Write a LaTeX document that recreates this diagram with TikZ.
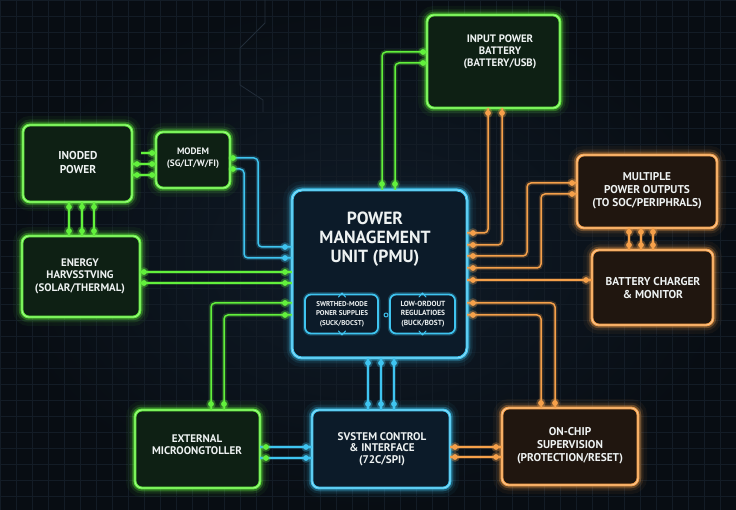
\documentclass[tikz,border=0pt]{standalone}
\usepackage{fontspec}
\setmainfont{PT Sans}
\usetikzlibrary{calc}
\definecolor{bgA}{HTML}{080D13}
\definecolor{bgB}{HTML}{101C29}
\definecolor{gridC}{HTML}{131C26}
\definecolor{traceC}{HTML}{222D39}
\definecolor{gC}{HTML}{62F03C}
\definecolor{bC}{HTML}{3FC4F0}
\definecolor{oC}{HTML}{F5A04A}
\definecolor{gF}{HTML}{0E2014}
\definecolor{bF}{HTML}{0C1B29}
\definecolor{oF}{HTML}{20160F}
\definecolor{txC}{HTML}{EEF2F2}
\tikzset{
 boxbase/.style={rounded corners=7pt, line width=2.8pt, outer sep=0pt, inner sep=0pt},
 glow/.style={preaction={draw=#1,line width=18pt,draw opacity=.05},
              preaction={draw=#1,line width=11pt,draw opacity=.11},
              preaction={draw=#1,line width=6.5pt,draw opacity=.30},
              postaction={draw=#1!55!white,line width=.8pt}},
 gbox/.style={boxbase, draw=gC, fill=gF, glow=gC},
 bbox/.style={boxbase, draw=bC, fill=bF, glow=bC},
 obox/.style={boxbase, draw=oC, fill=oF, glow=oC},
 subbox/.style={boxbase, rounded corners=6pt, line width=1.8pt, draw=bC, fill=bF,
              preaction={draw=bC,line width=4.5pt,draw opacity=.25}},
 tx/.style={text=txC, align=center, inner sep=0pt},
 wire/.style={draw=#1, line width=1.5pt, rounded corners=4pt,
              preaction={draw=#1,line width=4.5pt,draw opacity=.22}},
 chev/.style={draw=bC, line width=1pt, line cap=round, line join=round},
}
\newcommand\pinq[2]{\fill[#1,opacity=.3] #2 circle (4.8pt); \fill[#1] #2 circle (2.9pt);}
\newcommand\fsz[2]{\fontsize{#1}{#2}\selectfont\bfseries}
\begin{document}
\begin{tikzpicture}[x=1pt,y=-1pt]
\useasboundingbox (0,0) rectangle (736,510);
\shade[inner color=bgB, outer color=bgA] (0,0) rectangle (736,510);
\draw[gridC, line width=.4pt] (0,0) grid[step=16pt] (736,510);
\draw[traceC, line width=.8pt] (265,0) -- (265,23) -- (240,48) -- (240,85) -- (263,100) -- (263,112);

% boxes
\node[gbox, minimum width=109pt, minimum height=77pt] (inp) at (77.5,163.5) {};
\node[gbox, minimum width=74pt, minimum height=56pt] (mdm) at (193,160) {};
\node[gbox, minimum width=118pt, minimum height=81pt] (eh) at (81,276.5) {};
\node[bbox, rounded corners=10pt, line width=3pt, minimum width=175pt, minimum height=168pt] (pmu) at (379.5,274) {};
\node[subbox, minimum width=73pt, minimum height=39pt] (smps) at (341.5,314) {};
\node[subbox, minimum width=65pt, minimum height=39pt] (ldo) at (422.5,314) {};
\node[gbox, minimum width=133pt, minimum height=93pt] (ipb) at (493.5,61.5) {};
\node[obox, minimum width=140pt, minimum height=73pt] (mpo) at (647,191.5) {};
\node[obox, minimum width=121pt, minimum height=75pt] (bcm) at (652.5,287.5) {};
\node[gbox, minimum width=125pt, minimum height=78pt] (ext) at (197.5,449) {};
\node[bbox, minimum width=138pt, minimum height=78pt] (sci) at (381,449) {};
\node[obox, minimum width=136pt, minimum height=77pt] (ocs) at (570,446.5) {};

% small marks on the sub-boxes
\draw[chev] (338.5,297) -- (342,293) -- (345.5,297);
\draw[chev] (338.5,331) -- (342,335) -- (345.5,331);
\draw[chev] (419,297) -- (422.5,293) -- (426,297);
\draw[chev] (419,331) -- (422.5,335) -- (426,331);
\draw[chev] (386,315) circle (2pt);

% green wires
\coordinate (stub) at (141,153);
\draw[wire=gC] (stub) -- (mdm.west |- 0,153);
\draw[wire=gC] (inp.east |- 0,164) -- (mdm.west |- 0,164);
\draw[wire=gC] (inp.east |- 0,175) -- (mdm.west |- 0,175);
\foreach \xx in {69,82,94} \draw[wire=gC] (inp.south -| \xx,0) -- (eh.north -| \xx,0);
\draw[wire=gC] (eh.east |- 0,272) -- (pmu.west |- 0,272);
\draw[wire=gC] (eh.east |- 0,283) -- (pmu.west |- 0,283);
\draw[wire=gC] (pmu.west |- 0,303) -- (211,303) -- (ext.north -| 211,0);
\draw[wire=gC] (pmu.west |- 0,315) -- (224,315) -- (ext.north -| 224,0);
\draw[wire=gC] (ipb.west |- 0,52) -- (382,52) -- (pmu.north -| 382,0);
\draw[wire=gC] (ipb.west |- 0,63) -- (395,63) -- (pmu.north -| 395,0);

% blue wires
\draw[wire=bC] (mdm.east |- 0,158) -- (258,158) -- (258,247) -- (pmu.west |- 0,247);
\draw[wire=bC] (mdm.east |- 0,169) -- (244,169) -- (244,258) -- (pmu.west |- 0,258);
\foreach \xx in {368,381,394} \draw[wire=bC] (pmu.south -| \xx,0) -- (sci.north -| \xx,0);
\draw[wire=bC] (ext.east |- 0,447) -- (sci.west |- 0,447);
\draw[wire=bC] (ext.east |- 0,458) -- (sci.west |- 0,458);

% orange wires
\draw[wire=oC] (ipb.south -| 488,0) -- (488,233) -- (pmu.east |- 0,233);
\draw[wire=oC] (ipb.south -| 502,0) -- (502,245) -- (pmu.east |- 0,245);
\draw[wire=oC] (pmu.east |- 0,256) -- (527,256) -- (527,183) -- (mpo.west |- 0,183);
\draw[wire=oC] (pmu.east |- 0,268) -- (541,268) -- (541,194) -- (mpo.west |- 0,194);
\draw[wire=oC] (pmu.east |- 0,280) -- (bcm.west |- 0,280);
\foreach \xx in {629,641,653} \draw[wire=oC] (mpo.south -| \xx,0) -- (bcm.north -| \xx,0);
\draw[wire=oC] (pmu.east |- 0,303) -- (555,303) -- (ocs.north -| 555,0);
\draw[wire=oC] (pmu.east |- 0,315) -- (541,315) -- (ocs.north -| 541,0);
\draw[wire=oC] (sci.east |- 0,447) -- (ocs.west |- 0,447);
\draw[wire=oC] (sci.east |- 0,457) -- (ocs.west |- 0,457);

% pins
\pinq{gC}{(152,153)}
\pinq{gC}{(137,164)} \pinq{gC}{(152,164)}
\pinq{gC}{(137,175)} \pinq{gC}{(152,175)}
\foreach \xx in {69,82,94} {\pinq{gC}{(\xx,207)} \pinq{gC}{(\xx,231)}}
\pinq{gC}{(144,272)} \pinq{gC}{(285,272)}
\pinq{gC}{(144,283)} \pinq{gC}{(285,283)}
\pinq{gC}{(285,303)} \pinq{gC}{(211,404)}
\pinq{gC}{(285,315)} \pinq{gC}{(224,404)}
\pinq{gC}{(423,52)} \pinq{gC}{(382,184)}
\pinq{gC}{(423,63)} \pinq{gC}{(395,184)}
\pinq{gC}{(233,158)} \pinq{bC}{(285,247)}
\pinq{gC}{(233,169)} \pinq{bC}{(285,258)}
\foreach \xx in {368,381,394} {\pinq{bC}{(\xx,363)} \pinq{bC}{(\xx,404)}}
\pinq{gC}{(266,447)} \pinq{bC}{(306,447)}
\pinq{gC}{(266,458)} \pinq{bC}{(306,458)}
\pinq{oC}{(488,113)} \pinq{oC}{(473,233)}
\pinq{oC}{(502,113)} \pinq{oC}{(473,245)}
\pinq{oC}{(473,256)} \pinq{oC}{(572,183)}
\pinq{oC}{(473,268)} \pinq{oC}{(572,194)}
\pinq{oC}{(473,280)} \pinq{oC}{(586,280)}
\foreach \xx in {629,641,653} {\pinq{oC}{(\xx,232)} \pinq{oC}{(\xx,245)}}
\pinq{oC}{(473,303)} \pinq{oC}{(555,403)}
\pinq{oC}{(473,315)} \pinq{oC}{(541,403)}
\pinq{oC}{(455,447)} \pinq{oC}{(496,447)}
\pinq{oC}{(455,457)} \pinq{oC}{(496,457)}

% texts
\node[tx, font=\fsz{11.4}{14}] (inpT) at (78,163) {INODED\\POWER};
\node[tx, font=\fsz{9.3}{12}] (mdmT) at (193,158) {MODEM\\(SG/LT/W/FI)};
\node[tx, font=\fsz{10.9}{12.5}] (ehT) at (80,276) {ENERGY\\HARVSSTVING\\(SOLAR/THERMAL)};
\node[tx, font=\fsz{17.6}{19}] (pmuT) at (375,239) {POWER\\MANAGEMENT\\UNIT (PMU)};
\node[tx, font=\fsz{7}{9.5}] (smpsT) at (342,314) {SWRTHED-MODE\\PONER SUPPLIES\\(SUCK/BOCST)};
\node[tx, font=\fsz{7.4}{9.5}] (ldoT) at (423,314) {LOW-ORDOUT\\REGULATIOES\\(BUCK/BOST)};
\node[tx, font=\fsz{10.8}{12}] (ipbT) at (500,52) {INPUT POWER\\BATTERY\\(BATTERY/USB)};
\node[tx, font=\fsz{11.3}{13}] (mpoT) at (647,191) {MULTIPLE\\POWER OUTPUTS\\(TO SOC/PERIPHRALS)};
\node[tx, font=\fsz{11.4}{12.5}] (bcmT) at (653,288) {BATTERY CHARGER\\\& MONITOR};
\node[tx, font=\fsz{11}{12}] (extT) at (197,445) {EXTERNAL\\MICROONGTOLLER};
\node[tx, font=\fsz{11.1}{11.5}] (sciT) at (382,449) {SVSTEM CONTROL\\\& INTERFACE\\(72C/SPI)};
\node[tx, font=\fsz{11.3}{13}] (ocsT) at (570,446) {ON-CHIP\\SUPERVISION\\(PROTECTION/RESET)};
\end{tikzpicture}
\end{document}
